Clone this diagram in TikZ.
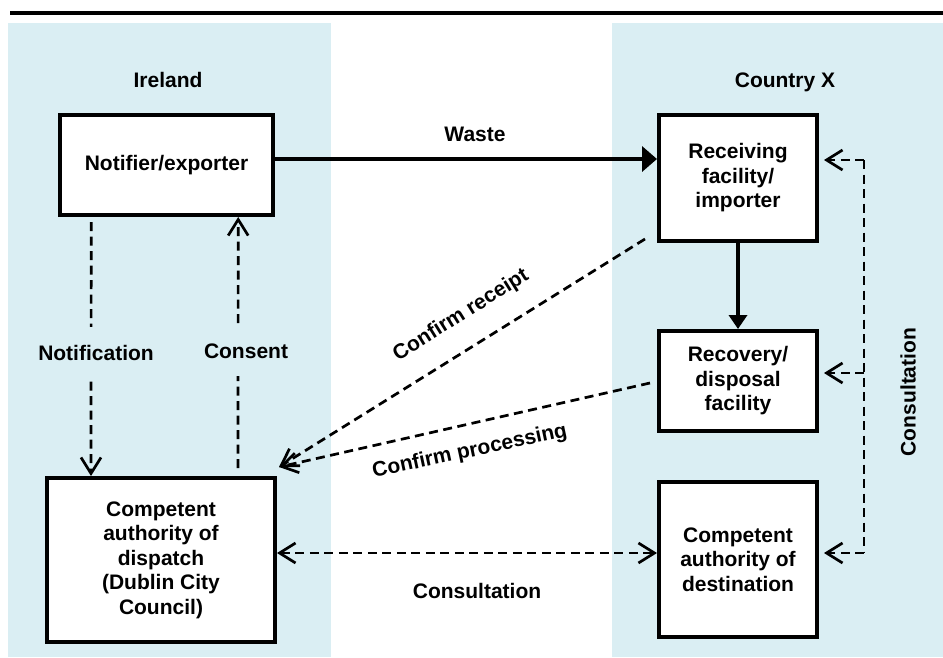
\documentclass[tikz,border=0pt]{standalone}
\usepackage{fontspec}
\setmainfont{Liberation Sans}
\usetikzlibrary{calc}
\usetikzlibrary{arrows.meta}
\definecolor{panelBlue}{RGB}{218,238,243}
\tikzset{
  box/.style = {draw=black, fill=white, line width=3.6pt, align=center, inner sep=0pt,
    font=\bfseries\fontsize{21}{24.5}\selectfont},
  txt/.style = {inner sep=0pt, font=\bfseries\fontsize{21}{25}\selectfont},
  gapTxt/.style = {txt, fill=#1, inner xsep=2pt, inner ysep=18pt},
  flow/.style = {color=#1, line width=3.6pt, -{Triangle[length=15pt,width=22pt]}},
  dashLine/.style = {color=#1, line width=2.7pt, dash pattern=on 9pt off 5.5pt},
  msg/.style = {dashLine={#1}, -{Straight Barb[length=16pt,width=20pt]}},
  msgBoth/.style = {dashLine={#1}, {Straight Barb[length=16pt,width=20pt]}-{Straight Barb[length=16pt,width=20pt]}}
}

\begin{document}
\begin{tikzpicture}[x=1pt, y=-1pt]

    \useasboundingbox (0,0) rectangle (943,657);

    % Panels
    \fill[panelBlue] (8,23) rectangle (331,657);
    \fill[panelBlue] (612,23) rectangle (943,657);
    \draw[line width=4pt] (10,13) -- (943,13);

    % Titles
    \node[txt, anchor=base] (ireland) at (168,87) {Ireland};
    \node[txt, anchor=base] (countryX) at (785,87) {Country X};

    % Boxes
    \node[box, minimum width=213pt, minimum height=100.4pt] (notifier) at (166.5,165) {Notifier/exporter};
    \node[box, minimum width=228.4pt, minimum height=164.4pt] (dispatch) at (161,560)
      {Competent\\authority of\\dispatch\\(Dublin City\\Council)};
    \node[box, minimum width=158.4pt, minimum height=126.4pt] (receiving) at (738,178)
      {Receiving\\facility/\\importer};
    \node[box, minimum width=158.4pt, minimum height=100.4pt] (recovery) at (738,381)
      {Recovery/\\disposal\\facility};
    \node[box, minimum width=158.4pt, minimum height=155.4pt] (destination) at (738,559.5)
      {Competent\\authority of\\destination};

    % Coordinates
    \coordinate (wasteStart) at ($(notifier.east)+(0,-6)$);
    \coordinate (inbox) at ($(dispatch.north east)+(2,-9)$);
    \coordinate (cTop) at (864,160);
    \coordinate (cMid) at (864,373);
    \coordinate (cBot) at (864,553);

    % Shipment
    \draw[flow={black}, -{Triangle[length=15pt,width=25pt]}] (wasteStart) -- (wasteStart -| receiving.west);
    \node[txt, anchor=base] (waste) at (475,141) {Waste};
    \draw[flow={black}, -{Triangle[length=14pt,width=18pt]}] (receiving.south) -- (recovery.north);

    % Ireland side
    \draw[msg={black}] ($(notifier.south west)+(33,5)$) -- ($(dispatch.north west)+(46,0)$);
    \draw[msg={black}] ($(dispatch.north west)+(193,-8)$) -- ($(notifier.south west)+(180,0)$);
    \node[gapTxt={panelBlue}, anchor=base] (notification) at (96,360) {Notification};
    \node[gapTxt={panelBlue}, anchor=base] (consent) at (246,358) {Consent};

    % Confirmations
    \draw[msg={black}] ($(receiving.south west)+(-12,-4)$) -- (inbox);
    \draw[msg={black}] ($(recovery.west)+(-7,2)$) -- (inbox);
    \node[txt, anchor=base, rotate=32] (receipt) at (464,320) {Confirm receipt};
    \node[txt, anchor=base, rotate=12] (processing) at (471,457) {Confirm processing};

    % Consultation
    \draw[msgBoth={black}] (dispatch.east |- cBot) -- (destination.west |- cBot);
    \node[txt, anchor=base] (consultH) at (477,598) {Consultation};
    \draw[dashLine={black}] (cTop) -- (cBot);
    \foreach \c/\n in {cTop/receiving, cMid/recovery, cBot/destination} {
        \draw[msg={black}, shorten >=5pt] (\c) -- (\c -| \n.east);
    }
    \node[txt, rotate=90] (consultV) at (908,392) {Consultation};

\end{tikzpicture}
\end{document}
